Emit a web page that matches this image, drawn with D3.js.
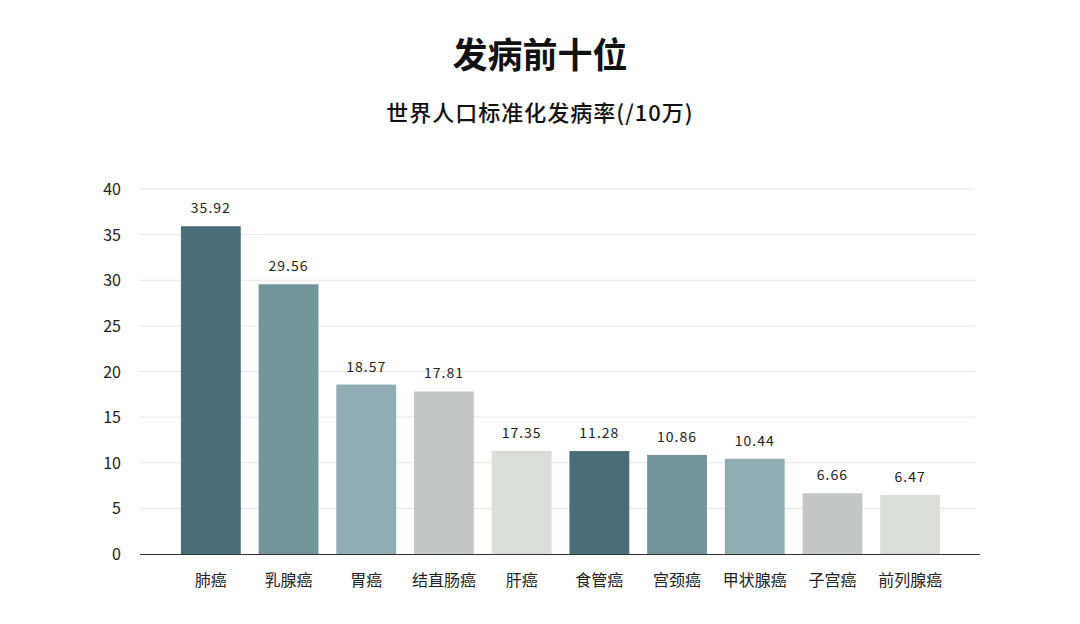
<!DOCTYPE html>
<html>
<head>
<meta charset="utf-8">
<script src="https://cdn.jsdelivr.net/npm/d3@7"></script>
<style>
  body { margin: 0; background: #fff; }
  text { font-family: "Noto Sans CJK SC", "Noto Sans", sans-serif; }
</style>
</head>
<body>
<div id="chart"></div>
<script>
// dados
const categories = ["肺癌", "乳腺癌", "胃癌", "结直肠癌", "肝癌", "食管癌", "宫颈癌", "甲状腺癌", "子宫癌", "前列腺癌"];
// altura desenhada das barras (o 肝癌 no original está desenhado ~11.3 apesar do rótulo)
const barValues = [35.92, 29.56, 18.57, 17.81, 11.3, 11.28, 10.86, 10.44, 6.66, 6.47];
const valueLabels = ["35.92", "29.56", "18.57", "17.81", "17.35", "11.28", "10.86", "10.44", "6.66", "6.47"];
const yTicks = [0, 5, 10, 15, 20, 25, 30, 35, 40];
const palette = ["#4a6d77", "#74959b", "#90adb3", "#c3c8c7", "#dcdedb"];

const width = 1080, height = 624;
const svg = d3.select("#chart").append("svg")
    .attr("width", width).attr("height", height);

svg.append("text").attr("x", 540).attr("y", 68)
    .attr("text-anchor", "middle").attr("font-size", 35).attr("font-weight", 700)
    .attr("fill", "#111").text("发病前十位");
svg.append("text").attr("x", 540).attr("y", 121)
    .attr("text-anchor", "middle").attr("font-size", 22).attr("font-weight", 500)
    .attr("letter-spacing", 1).attr("fill", "#111").text("世界人口标准化发病率(/10万)");

const y = d3.scaleLinear().domain([0, 40]).range([554, 189]);
const x = d3.scaleBand().domain(categories).range([172, 949])
    .paddingInner(0.23).paddingOuter(0.115);

// grade
svg.append("g").selectAll("line").data(yTicks.filter(d => d > 0)).enter()
    .append("line")
    .attr("x1", 140).attr("x2", 975)
    .attr("y1", d => y(d)).attr("y2", d => y(d))
    .attr("stroke", "#e6e6e6").attr("stroke-width", 1);

svg.append("g").selectAll("text").data(yTicks).enter()
    .append("text")
    .attr("x", 121).attr("y", d => y(d) + 6)
    .attr("text-anchor", "end").attr("font-size", 16).attr("fill", "#222")
    .text(d => d);

// barras
svg.append("g").selectAll("rect").data(categories).enter()
    .append("rect")
    .attr("x", d => x(d)).attr("width", x.bandwidth())
    .attr("y", (d, i) => y(barValues[i]))
    .attr("height", (d, i) => y(0) - y(barValues[i]))
    .attr("fill", (d, i) => palette[i % palette.length]);

svg.append("line").attr("x1", 140).attr("x2", 980)
    .attr("y1", 554.5).attr("y2", 554.5).attr("stroke", "#333").attr("stroke-width", 1);

svg.append("g").selectAll("text").data(categories).enter()
    .append("text")
    .attr("x", d => x(d) + x.bandwidth() / 2)
    .attr("y", (d, i) => y(barValues[i]) - 13)
    .attr("text-anchor", "middle").attr("font-size", 14).attr("letter-spacing", 1)
    .attr("fill", "#222")
    .text((d, i) => valueLabels[i]);

svg.append("g").selectAll("text").data(categories).enter()
    .append("text")
    .attr("x", d => x(d) + x.bandwidth() / 2).attr("y", 586)
    .attr("text-anchor", "middle").attr("font-size", 16).attr("fill", "#222")
    .text(d => d);
</script>
</body>
</html>
